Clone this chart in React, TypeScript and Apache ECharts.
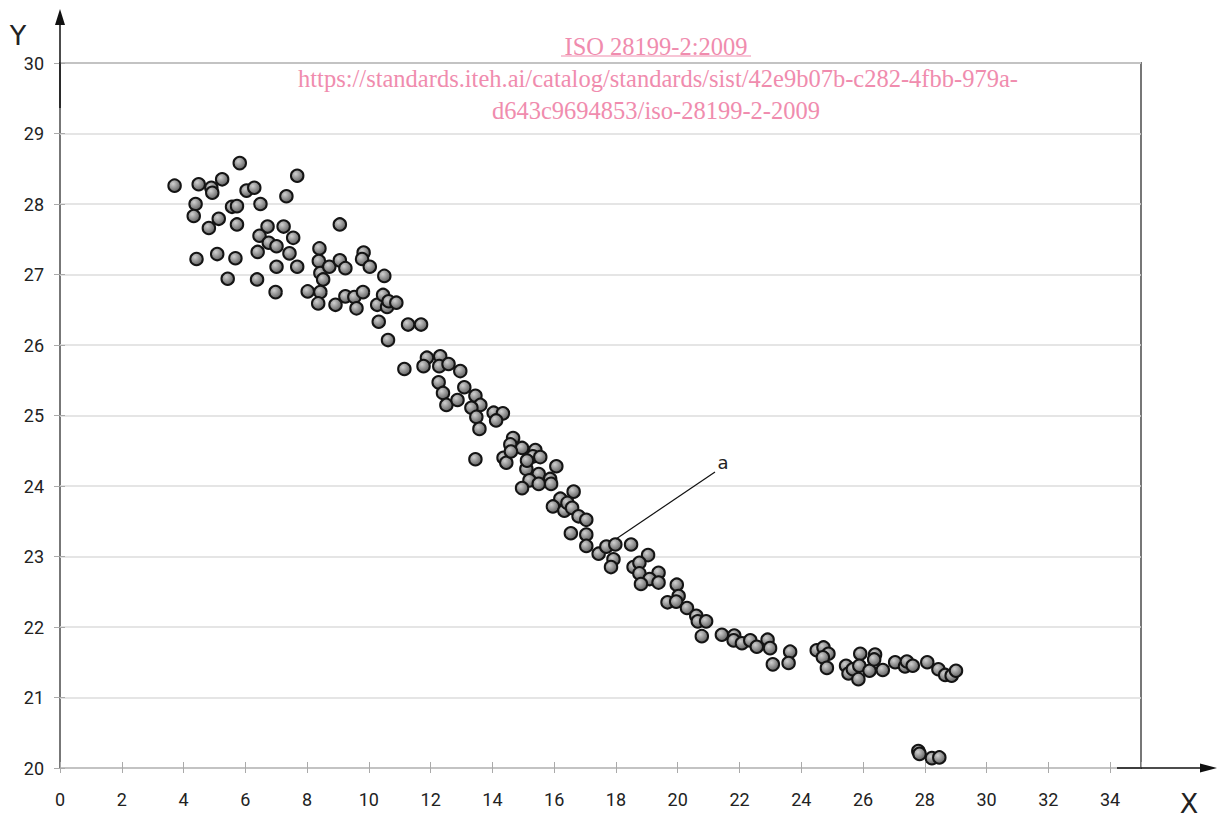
import React, { useEffect, useRef } from "react";
import * as echarts from "echarts";

// X values of the measured points
const pointsX: number[] = [
  3.71, 4.49, 4.9, 4.93, 5.25, 5.82, 6.04, 6.29, 7.68, 7.33,
  4.39, 4.33, 5.14, 4.82, 5.57, 5.73, 6.49, 5.73, 6.72, 7.24,
  6.46, 7.55, 6.76, 7.01, 8.4, 9.06, 4.42, 5.09, 5.68, 6.4,
  7.43, 7.01, 7.68, 8.38, 8.43, 8.72, 9.06, 9.24, 8.52, 5.43,
  6.38, 6.98, 8.02, 8.43, 9.24, 9.83, 9.78, 10.03, 10.5, 8.36,
  8.92, 9.53, 9.6, 9.81, 10.27, 10.46, 10.59, 10.64, 10.89, 10.32,
  11.27, 11.69, 10.62, 11.88, 12.31, 11.15, 11.77, 12.28, 12.58, 12.96,
  12.26, 12.4, 12.51, 12.87, 13.09, 13.45, 13.61, 13.32, 13.48, 13.58,
  14.04, 14.34, 14.12, 13.45, 14.67, 14.58, 14.96, 15.39, 15.31, 15.55,
  14.36, 14.45, 15.1, 16.07, 15.5, 15.87, 14.6, 15.12, 15.2, 15.5,
  15.9, 14.96, 16.63, 16.2, 15.96, 16.33, 16.43, 16.58, 16.79, 17.04,
  16.54, 17.04, 17.04, 17.44, 17.69, 17.98, 18.49, 17.92, 17.84, 19.04,
  18.57, 18.76, 18.76, 19.38, 19.09, 18.81, 19.38, 19.97, 20.03, 19.67,
  19.95, 20.3, 20.6, 20.65, 20.92, 20.78, 21.43, 21.83, 21.81, 22.08,
  22.35, 22.56, 22.91, 22.99, 23.64, 23.59, 23.08, 24.5, 24.72, 24.88,
  24.7, 24.83, 25.45, 25.53, 25.67, 25.91, 25.88, 25.85, 26.21, 26.39,
  26.36, 26.64, 27.04, 27.36, 27.42, 27.61, 28.08, 28.44, 28.66, 28.87,
  29.01, 27.79, 27.83, 28.23, 28.47,
];

// Y values of the measured points
const pointsY: number[] = [
  28.26, 28.28, 28.23, 28.16, 28.35, 28.58, 28.19, 28.23, 28.4, 28.11,
  28.0, 27.83, 27.79, 27.66, 27.96, 27.97, 28.0, 27.71, 27.68, 27.68,
  27.55, 27.52, 27.45, 27.4, 27.37, 27.71, 27.22, 27.29, 27.23, 27.32,
  27.3, 27.11, 27.11, 27.19, 27.02, 27.11, 27.2, 27.09, 26.93, 26.94,
  26.93, 26.75, 26.76, 26.75, 26.69, 27.31, 27.22, 27.11, 26.98, 26.59,
  26.57, 26.68, 26.52, 26.75, 26.57, 26.71, 26.54, 26.62, 26.6, 26.33,
  26.29, 26.29, 26.07, 25.82, 25.84, 25.66, 25.7, 25.7, 25.73, 25.63,
  25.47, 25.32, 25.15, 25.22, 25.4, 25.28, 25.15, 25.11, 24.98, 24.81,
  25.04, 25.03, 24.93, 24.38, 24.68, 24.59, 24.54, 24.51, 24.42, 24.41,
  24.4, 24.33, 24.24, 24.28, 24.17, 24.1, 24.49, 24.36, 24.08, 24.03,
  24.03, 23.97, 23.92, 23.82, 23.71, 23.65, 23.76, 23.69, 23.57, 23.52,
  23.33, 23.31, 23.15, 23.04, 23.14, 23.17, 23.17, 22.96, 22.85, 23.02,
  22.85, 22.91, 22.76, 22.77, 22.68, 22.61, 22.63, 22.6, 22.44, 22.35,
  22.36, 22.27, 22.16, 22.08, 22.08, 21.87, 21.89, 21.88, 21.81, 21.77,
  21.81, 21.72, 21.82, 21.7, 21.65, 21.49, 21.47, 21.67, 21.71, 21.62,
  21.57, 21.42, 21.45, 21.34, 21.4, 21.62, 21.45, 21.26, 21.38, 21.61,
  21.54, 21.39, 21.5, 21.44, 21.51, 21.45, 21.5, 21.4, 21.32, 21.31,
  21.38, 20.24, 20.2, 20.14, 20.15,
];

const titleLines: string[] = [
  "ISO 28199-2:2009",
  "https://standards.iteh.ai/catalog/standards/sist/42e9b07b-c282-4fbb-979a-",
  "d643c9694853/iso-28199-2-2009",
];

const X_MIN = 0;
const X_MAX = 35;
const X_STEP = 2;
const Y_MIN = 20;
const Y_MAX = 30;
const Y_STEP = 1;

export default function App() {
  const ref = useRef<HTMLDivElement>(null);

  useEffect(() => {
    if (!ref.current) return;
    const chart = echarts.init(ref.current, null, { renderer: "svg" });
    const data = pointsX.map((x, i) => [x, pointsY[i]]);
    const labelFont = { fontFamily: "Roboto", fontSize: 18, color: "#222" };
    const pink = "#f08cae";
    const titleFont = { fontFamily: "Liberation Serif", fontSize: 24.5, fill: pink, align: "center", verticalAlign: "middle" };

    chart.setOption({
      animation: false,
      backgroundColor: "#ffffff",
      grid: {
        left: 60,
        top: 63,
        width: 1081,
        height: 705,
        show: true,
        borderColor: "#777",
        borderWidth: 2,
        backgroundColor: "transparent",
        containLabel: false,
        outerBoundsMode: "none",
      },
      xAxis: [
        {
          type: "value",
          min: X_MIN,
          max: X_MAX,
          interval: X_STEP,
          axisLine: { show: false },
          axisTick: { show: true, length: 5, lineStyle: { color: "#aaa", width: 1 } },
          axisLabel: { ...labelFont, margin: 22, showMaxLabel: false },
          splitLine: { show: false },
        },
        {
          type: "value",
          position: "bottom",
          min: X_MIN,
          max: X_MAX,
          interval: X_STEP,
          axisLine: { show: false },
          axisTick: { show: true, inside: true, length: 6, lineStyle: { color: "#aaa", width: 1 } },
          axisLabel: { show: false },
          splitLine: { show: false },
        },
      ],
      yAxis: [
        {
          type: "value",
          min: Y_MIN,
          max: Y_MAX,
          interval: Y_STEP,
          axisLine: { show: false },
          axisTick: { show: true, length: 6, lineStyle: { color: "#aaa", width: 1 } },
          axisLabel: { ...labelFont, margin: 16 },
          splitLine: { show: true, lineStyle: { color: "#dcdcdc", width: 1.5 } },
        },
        {
          type: "value",
          position: "left",
          min: Y_MIN,
          max: Y_MAX,
          interval: Y_STEP,
          axisLine: { show: false },
          axisTick: { show: true, inside: true, length: 5, lineStyle: { color: "#aaa", width: 1 } },
          axisLabel: { show: false },
          splitLine: { show: false },
        },
      ],
      series: [
        {
          type: "scatter",
          xAxisIndex: 0,
          yAxisIndex: 0,
          data,
          symbol: "circle",
          symbolSize: 12.5,
          itemStyle: {
            color: new echarts.graphic.RadialGradient(0.38, 0.35, 0.7, [
              { offset: 0, color: "#d0d0d0" },
              { offset: 1, color: "#5a5a5a" },
            ]),
            borderColor: "#141414",
            borderWidth: 2,
            opacity: 1,
          },
          z: 5,
        },
      ],
      graphic: [
        // Y arrow
        { type: "line", shape: { x1: 60, y1: 108, x2: 60, y2: 24 }, style: { stroke: "#111", lineWidth: 1.5 }, z: 10 },
        { type: "polygon", shape: { points: [[55, 25], [65, 25], [60, 9]] }, style: { fill: "#111" }, z: 10 },
        // X arrow
        { type: "line", shape: { x1: 1117, y1: 768, x2: 1201, y2: 768 }, style: { stroke: "#111", lineWidth: 1.5 }, z: 10 },
        { type: "polygon", shape: { points: [[1200, 763.5], [1200, 772.5], [1217, 768]] }, style: { fill: "#111" }, z: 10 },
        // axis names
        { type: "text", x: 18, y: 35, style: { text: "Y", fontFamily: "DejaVu Sans", fontSize: 27, fill: "#222", align: "center", verticalAlign: "middle" }, z: 10 },
        { type: "text", x: 1189, y: 803, style: { text: "X", fontFamily: "DejaVu Sans", fontSize: 27, fill: "#222", align: "center", verticalAlign: "middle" }, z: 10 },
        // title watermark
        { type: "text", x: 656, y: 46, style: { text: titleLines[0], ...titleFont }, z: 10 },
        { type: "line", shape: { x1: 561, y1: 56, x2: 751, y2: 56 }, style: { stroke: pink, lineWidth: 1.2 }, z: 10 },
        { type: "text", x: 658, y: 78, style: { text: titleLines[1], ...titleFont }, z: 10 },
        { type: "text", x: 656, y: 110, style: { text: titleLines[2], ...titleFont }, z: 10 },
        // annotation "a"
        { type: "line", shape: { x1: 616, y1: 539, x2: 715, y2: 472 }, style: { stroke: "#111", lineWidth: 1.2 }, z: 10 },
        { type: "text", x: 723, y: 462, style: { text: "a", fontFamily: "DejaVu Sans", fontSize: 18, fill: "#222", align: "center", verticalAlign: "middle" }, z: 10 },
      ],
    });

    return () => chart.dispose();
  }, []);

  return (
    <div
      ref={ref}
      style={{ position: "absolute", left: 0, top: 0, width: 1218, height: 817 }}
    />
  );
}
